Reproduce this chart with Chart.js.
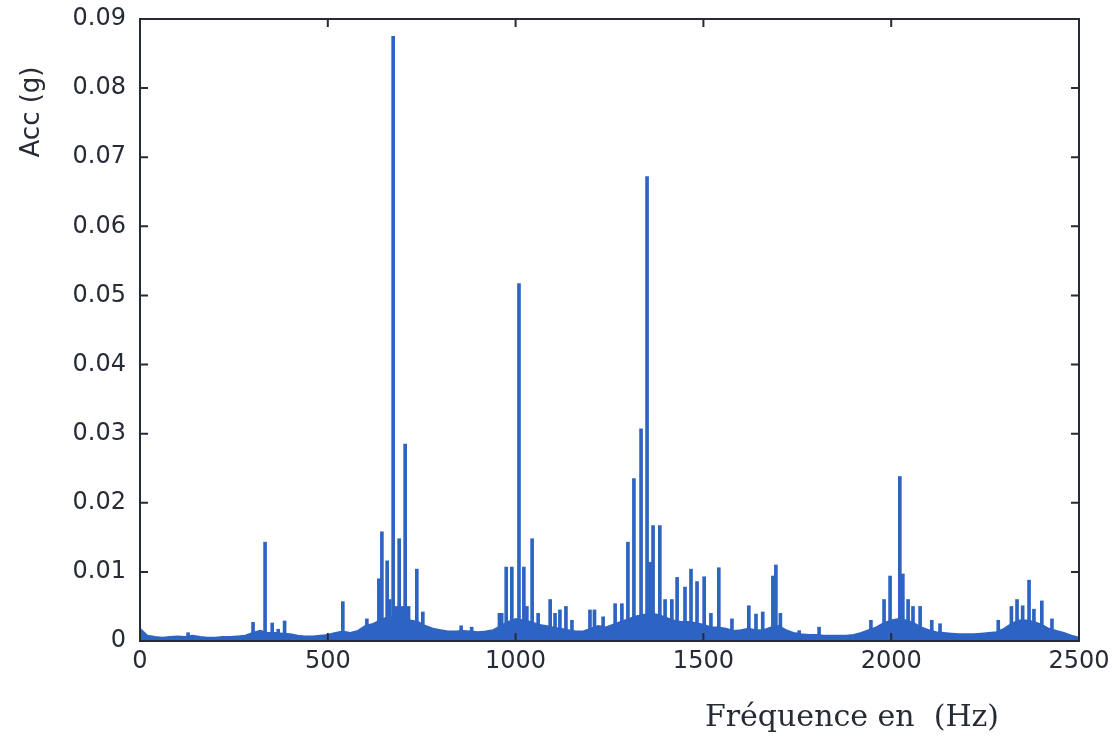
<!DOCTYPE html>
<html>
<head>
<meta charset="utf-8">
<script src="https://cdn.jsdelivr.net/npm/chart.js@4/dist/chart.umd.min.js"></script>
<style>
  html, body { margin: 0; padding: 0; background: #fff; }
  #wrap { width: 1117px; height: 741px; }
</style>
</head>
<body>
<div id="wrap"><canvas id="spectre" width="1117" height="741"></canvas></div>
<script>
// Noise floor, sampled every 20 Hz from 0 to 2500 Hz
const noiseFreq = [
    0, 20, 40, 60, 80, 100, 120, 140, 160, 180,
    200, 220, 240, 260, 280, 300, 320, 340, 360, 380,
    400, 420, 440, 460, 480, 500, 520, 540, 560, 580,
    600, 620, 640, 660, 680, 700, 720, 740, 760, 780,
    800, 820, 840, 860, 880, 900, 920, 940, 960, 980,
    1000, 1020, 1040, 1060, 1080, 1100, 1120, 1140, 1160, 1180,
    1200, 1220, 1240, 1260, 1280, 1300, 1320, 1340, 1360, 1380,
    1400, 1420, 1440, 1460, 1480, 1500, 1520, 1540, 1560, 1580,
    1600, 1620, 1640, 1660, 1680, 1700, 1720, 1740, 1760, 1780,
    1800, 1820, 1840, 1860, 1880, 1900, 1920, 1940, 1960, 1980,
    2000, 2020, 2040, 2060, 2080, 2100, 2120, 2140, 2160, 2180,
    2200, 2220, 2240, 2260, 2280, 2300, 2320, 2340, 2360, 2380,
    2400, 2420, 2440, 2460, 2480, 2500
];
const noiseAcc = [
    0.0018, 0.0008, 0.0006, 0.0005, 0.0006, 0.0007, 0.0006, 0.0008, 0.0006, 0.0005,
    0.0005, 0.0006, 0.0006, 0.0007, 0.0008, 0.0012, 0.0015, 0.0012, 0.0012, 0.0011,
    0.0010, 0.0008, 0.0007, 0.0007, 0.0008, 0.0009, 0.0012, 0.0014, 0.0012, 0.0015,
    0.0022, 0.0025, 0.0030, 0.0035, 0.0035, 0.0035, 0.0030, 0.0028, 0.0022, 0.0018,
    0.0016, 0.0014, 0.0014, 0.0015, 0.0014, 0.0013, 0.0014, 0.0016, 0.0022, 0.0028,
    0.0032, 0.0030, 0.0028, 0.0024, 0.0022, 0.0020, 0.0018, 0.0016, 0.0014, 0.0014,
    0.0018, 0.0022, 0.0020, 0.0024, 0.0028, 0.0032, 0.0036, 0.0038, 0.0040, 0.0038,
    0.0034, 0.0030, 0.0028, 0.0028, 0.0026, 0.0024, 0.0020, 0.0020, 0.0018, 0.0015,
    0.0016, 0.0018, 0.0016, 0.0016, 0.0020, 0.0022, 0.0016, 0.0012, 0.0010, 0.0009,
    0.0009, 0.0008, 0.0008, 0.0008, 0.0008, 0.0009, 0.0012, 0.0016, 0.0020, 0.0026,
    0.0030, 0.0032, 0.0030, 0.0026, 0.0020, 0.0016, 0.0013, 0.0012, 0.0011, 0.0010,
    0.0010, 0.0010, 0.0011, 0.0012, 0.0013, 0.0018, 0.0025, 0.0030, 0.0030, 0.0028,
    0.0024, 0.0018, 0.0015, 0.0012, 0.0008, 0.0005
];

// Spectral lines (Hz, g)
const peakFreq = [
    128, 301, 333, 352, 368, 385, 540, 604,
    636, 644, 658, 665, 674, 682, 690, 698, 706, 715, 737, 753,
    855, 883, 957, 963, 975, 990, 1009, 1022, 1030, 1044, 1060,
    1092, 1105, 1118, 1134, 1150, 1198, 1210, 1233, 1265, 1283,
    1299, 1315, 1334, 1350, 1358, 1366, 1384, 1398, 1416, 1430,
    1451, 1467, 1483, 1502, 1520, 1541, 1576, 1621, 1640, 1658,
    1685, 1693, 1705, 1755, 1808,
    1946, 1981, 1997, 2023, 2031, 2045, 2058, 2077, 2108, 2130,
    2285, 2320, 2335, 2350, 2367, 2380, 2401, 2428
];
const peakAcc = [
    0.0012, 0.0027, 0.0143, 0.0026, 0.0017, 0.0029, 0.0057, 0.0032,
    0.0090, 0.0158, 0.0116, 0.0060, 0.0875, 0.0050, 0.0148, 0.0050, 0.0285, 0.0050, 0.0104, 0.0042,
    0.0022, 0.0020, 0.0040, 0.0040, 0.0107, 0.0107, 0.0517, 0.0107, 0.0050, 0.0148, 0.0040,
    0.0060, 0.0040, 0.0045, 0.0050, 0.0030, 0.0045, 0.0045, 0.0035, 0.0054, 0.0054,
    0.0143, 0.0235, 0.0307, 0.0672, 0.0114, 0.0167, 0.0167, 0.0060, 0.0060, 0.0092,
    0.0078, 0.0104, 0.0086, 0.0093, 0.0040, 0.0106, 0.0032, 0.0051, 0.0039, 0.0042,
    0.0094, 0.0110, 0.0040, 0.0015, 0.0020,
    0.0030, 0.0060, 0.0094, 0.0238, 0.0097, 0.0060, 0.0050, 0.0050, 0.0030, 0.0025,
    0.0030, 0.0050, 0.0060, 0.0051, 0.0088, 0.0046, 0.0058, 0.0032
];

const yTicks = [0, 0.01, 0.02, 0.03, 0.04, 0.05, 0.06, 0.07, 0.08, 0.09];
const xTicks = [0, 500, 1000, 1500, 2000, 2500];

const blue = '#2d64c3';
const ink = '#262b36';

// box + inward ticks, matlab style
const framePlugin = {
    id: 'frame',
    afterDatasetsDraw(chart) {
        const { ctx, chartArea: a, scales: { x, y } } = chart;
        ctx.save();
        ctx.strokeStyle = ink;
        ctx.lineWidth = 2;
        ctx.strokeRect(a.left, a.top, a.right - a.left, a.bottom - a.top);
        ctx.beginPath();
        xTicks.forEach(v => {
            const px = x.getPixelForValue(v);
            ctx.moveTo(px, a.bottom); ctx.lineTo(px, a.bottom - 8);
            ctx.moveTo(px, a.top); ctx.lineTo(px, a.top + 8);
        });
        yTicks.forEach(v => {
            const py = y.getPixelForValue(v);
            ctx.moveTo(a.left, py); ctx.lineTo(a.left + 8, py);
            ctx.moveTo(a.right, py); ctx.lineTo(a.right - 8, py);
        });
        ctx.stroke();

        // axis titles
        ctx.fillStyle = ink;
        ctx.textAlign = 'center';
        ctx.textBaseline = 'middle';
        ctx.font = '26px "DejaVu Sans"';
        ctx.save();
        ctx.translate(32, 112);
        ctx.rotate(-Math.PI / 2);
        ctx.fillText('Acc (g)', 0, 0);
        ctx.restore();
        ctx.font = '30px "DejaVu Serif"';
        ctx.fillText('Fréquence en  (Hz)', 852, 718);
        ctx.restore();
    }
};

new Chart(document.getElementById('spectre'), {
    type: 'bar',
    data: {
        datasets: [
            {
                type: 'line',
                data: noiseFreq.map((f, i) => ({ x: f, y: noiseAcc[i] })),
                borderColor: blue,
                backgroundColor: blue,
                borderWidth: 1.5,
                pointRadius: 0,
                tension: 0,
                fill: 'origin'
            },
            {
                type: 'bar',
                data: peakFreq.map((f, i) => ({ x: f, y: peakAcc[i] })),
                backgroundColor: blue,
                barThickness: 3
            }
        ]
    },
    options: {
        responsive: false,
        devicePixelRatio: 1,
        animation: false,
        layout: { padding: { top: 19, right: 38, left: 0, bottom: 0 } },
        plugins: { legend: { display: false }, tooltip: { enabled: false } },
        scales: {
            x: {
                type: 'linear',
                min: 0, max: 2500,
                offset: false,
                afterFit: s => { s.height = 100; s.paddingLeft = 0; s.paddingRight = 0; },
                afterBuildTicks: s => { s.ticks = xTicks.map(v => ({ value: v })); },
                grid: { display: false, drawTicks: false },
                border: { display: false },
                ticks: {
                    padding: 6,
                    maxRotation: 0,
                    color: ink,
                    font: { family: 'DejaVu Sans', size: 24 },
                    callback: v => String(v)
                }
            },
            y: {
                min: 0, max: 0.09,
                afterFit: s => { s.width = 140; s.paddingTop = 0; s.paddingBottom = 0; },
                afterBuildTicks: s => { s.ticks = yTicks.map(v => ({ value: v })); },
                grid: { display: false, drawTicks: false },
                border: { display: false },
                ticks: {
                    padding: 14,
                    color: ink,
                    font: { family: 'DejaVu Sans', size: 24 },
                    callback: v => v === 0 ? '0' : v.toFixed(2)
                }
            }
        }
    },
    plugins: [framePlugin]
});
</script>
</body>
</html>
